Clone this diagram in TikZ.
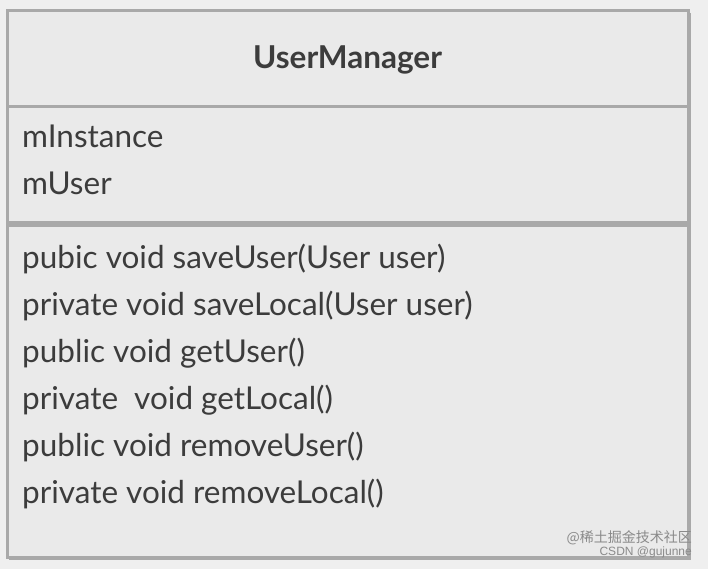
\documentclass[tikz,border=0pt]{standalone}
\usepackage{fontspec}
\setmainfont{Lato}
\newfontfamily\cjk{Noto Sans CJK SC}
\newfontfamily\wmfont{Liberation Sans}
\definecolor{bg}{HTML}{EFEFEF}
\definecolor{boxbg}{HTML}{EAEAEA}
\definecolor{edge}{HTML}{A9A9A9}
\definecolor{ink}{HTML}{3C3C3C}
\definecolor{wm}{HTML}{8A8A8A}
\begin{document}
\begin{tikzpicture}[x=1pt,y=-1pt,
  member/.style={anchor=base west,inner sep=0pt,text=ink,font=\fontsize{31.5}{31.5}\selectfont},
  title/.style={anchor=base,inner sep=0pt,text=ink,font=\fontsize{31.5}{31.5}\selectfont\bfseries},
  wmark/.style={anchor=base east,inner sep=0pt,text=wm}]
\useasboundingbox[fill=bg] (0,0) rectangle (708,569);
\coordinate (tl) at (7,11);
\coordinate (br) at (688,557);
\fill[boxbg] (tl) rectangle (br);
\draw[edge,line width=3pt] (tl) rectangle (br);
\draw[edge,line width=2pt] (690,13) -- (690,559) -- (9,559);
\coordinate (s1l) at (7,107); \coordinate (s1r) at (688,107);
\coordinate (s2l) at (7,224); \coordinate (s2r) at (688,224);
\draw[edge,line width=3pt] (s1l) -- (s1r);
\draw[edge,line width=6pt] (s2l) -- (s2r);
\node[title] (name) at (347.5,69) {UserManager};
\node[member] (a1) at (22,148) {mInstance};
\node[member] (a2) at (22,195) {mUser};
\node[member] (m1) at (22,268) {pubic void saveUser(User user)};
\node[member] (m2) at (22,315) {private void saveLocal(User user)};
\node[member] (m3) at (22,362) {public void getUser()};
\node[member] (m4) at (22,409) {private\ \ void getLocal()};
\node[member] (m5) at (22,456) {public void removeUser()};
\node[member] (m6) at (22,503) {private void removeLocal()};
\node[wmark,font=\cjk\fontsize{14}{14}\selectfont] (w1) at (692,542) {@稀土掘金技术社区};
\node[wmark,font=\wmfont\fontsize{12}{12}\selectfont] (w2) at (692,555) {CSDN @gujunne};
\end{tikzpicture}
\end{document}
